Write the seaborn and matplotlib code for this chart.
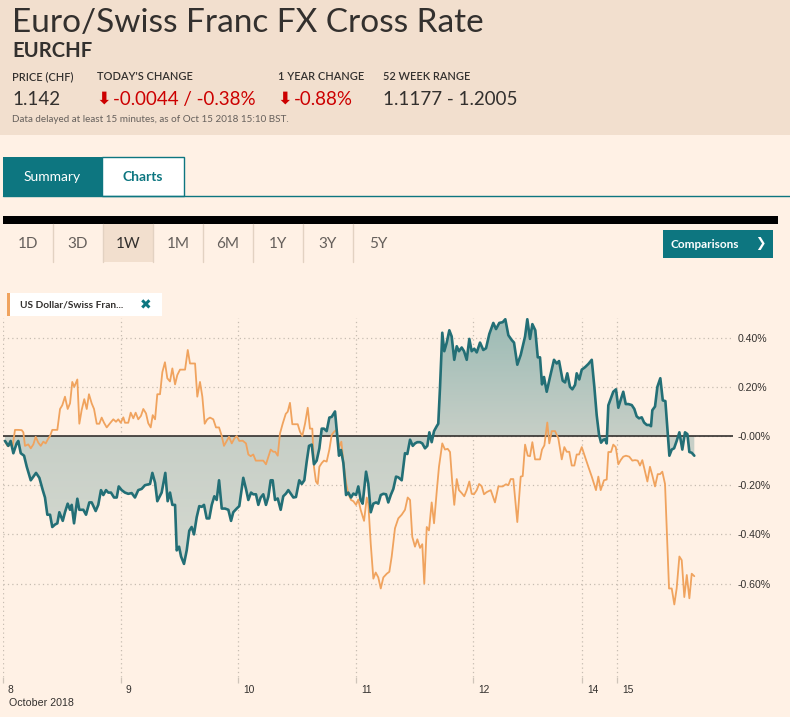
import numpy as np
import pandas as pd
import matplotlib
matplotlib.use("Agg")
import matplotlib.pyplot as plt
import seaborn as sns
from matplotlib.patches import Rectangle
from matplotlib.lines import Line2D
from matplotlib.transforms import ScaledTranslation

# ---------------- data (time in trading-days since 8 Oct, change in %) ----------------
eurchf_points = [
    (0.017,-0.02),(0.045,-0.04),(0.065,-0.02),(0.088,-0.07),(0.116,-0.03),(0.130,-0.02),(0.151,-0.07),
    (0.179,-0.08),(0.202,-0.125),(0.236,-0.18),(0.258,-0.165),(0.281,-0.15),(0.309,-0.17),(0.338,-0.22),
    (0.357,-0.25),(0.377,-0.32),(0.400,-0.32),(0.419,-0.37),(0.442,-0.36),(0.462,-0.355),(0.479,-0.31),
    (0.508,-0.345),(0.527,-0.31),(0.550,-0.275),(0.570,-0.30),(0.584,-0.28),(0.604,-0.355),(0.632,-0.255),
    (0.649,-0.30),(0.683,-0.30),(0.706,-0.32),(0.734,-0.27),(0.754,-0.27),(0.788,-0.305),(0.810,-0.28),
    (0.833,-0.22),(0.853,-0.24),(0.876,-0.22),(0.895,-0.23),(0.918,-0.23),(0.944,-0.25),(0.967,-0.25),
    (0.984,-0.205),(1.009,-0.22),(1.037,-0.23),(1.065,-0.235),(1.094,-0.232),(1.122,-0.25),(1.150,-0.22),
    (1.179,-0.215),(1.207,-0.20),(1.250,-0.195),(1.270,-0.15),(1.293,-0.19),(1.312,-0.265),(1.349,-0.23),
    (1.380,-0.15),(1.400,-0.265),(1.420,-0.23),(1.440,-0.28),(1.463,-0.28),(1.477,-0.465),(1.497,-0.45),
    (1.514,-0.49),(1.539,-0.52),(1.562,-0.465),(1.584,-0.385),(1.604,-0.37),(1.624,-0.40),(1.647,-0.33),
    (1.669,-0.285),(1.690,-0.288),(1.709,-0.28),(1.732,-0.335),(1.754,-0.335),(1.775,-0.28),(1.797,-0.245),
    (1.817,-0.26),(1.837,-0.18),(1.860,-0.295),(1.888,-0.295),(1.916,-0.30),(1.939,-0.345),(1.958,-0.31),
    (1.987,-0.295),(2.009,-0.285),(2.030,-0.215),(2.043,-0.17),(2.066,-0.215),(2.086,-0.26),(2.109,-0.23),
    (2.128,-0.237),(2.151,-0.237),(2.171,-0.28),(2.191,-0.25),(2.213,-0.237),(2.236,-0.28),(2.256,-0.247),
    (2.276,-0.18),(2.293,-0.18),(2.313,-0.26),(2.336,-0.254),(2.361,-0.30),(2.383,-0.245),(2.406,-0.234),
    (2.426,-0.22),(2.446,-0.234),(2.469,-0.25),(2.491,-0.248),(2.519,-0.18),(2.540,-0.195),(2.562,-0.18),
    (2.582,-0.105),(2.602,-0.04),(2.625,-0.035),(2.644,-0.115),(2.667,-0.10),(2.690,-0.05),(2.710,0.03),
    (2.729,0.03),(2.752,0.02),(2.775,0.075),(2.795,0.078),(2.823,0.10),(2.837,0.025),(2.857,-0.08),
    (2.874,-0.057),(2.894,-0.11),(2.917,-0.24),(2.936,-0.23),(2.959,-0.25),(2.979,-0.234),(3.002,-0.24),
    (3.021,-0.205),(3.041,-0.26),(3.058,-0.275),(3.087,-0.145),(3.106,-0.194),(3.127,-0.31),(3.149,-0.275),
    (3.172,-0.27),(3.191,-0.275),(3.212,-0.24),(3.234,-0.235),(3.257,-0.237),(3.276,-0.27),(3.297,-0.24),
    (3.319,-0.215),(3.342,-0.165),(3.361,-0.168),(3.390,-0.18),(3.418,-0.07),(3.438,-0.073),(3.461,-0.015),
    (3.484,-0.04),(3.503,-0.03),(3.523,-0.025),(3.546,-0.025),(3.565,-0.03),(3.588,-0.05),(3.608,-0.04),
    (3.625,0.015),(3.645,-0.025),(3.665,0.02),(3.688,0.04),(3.701,0.05),(3.716,0.20),(3.735,0.42),
    (3.752,0.345),(3.773,0.38),(3.795,0.43),(3.815,0.405),(3.837,0.31),(3.858,0.365),(3.877,0.345),
    (3.900,0.36),(3.920,0.345),(3.943,0.31),(3.965,0.395),(3.985,0.345),(4.007,0.355),(4.028,0.34),
    (4.056,0.38),(4.084,0.35),(4.107,0.357),(4.135,0.415),(4.169,0.46),(4.192,0.435),(4.220,0.46),
    (4.249,0.463),(4.271,0.475),(4.297,0.41),(4.326,0.39),(4.345,0.38),(4.373,0.29),(4.402,0.33),
    (4.439,0.405),(4.458,0.475),(4.481,0.395),(4.501,0.455),(4.526,0.43),(4.547,0.32),(4.566,0.32),
    (4.583,0.21),(4.600,0.24),(4.623,0.18),(4.651,0.24),(4.685,0.31),(4.708,0.295),(4.728,0.305),
    (4.759,0.225),(4.779,0.218),(4.798,0.255),(4.821,0.20),(4.841,0.19),(4.864,0.208),(4.878,0.255),
    (4.900,0.23),(4.921,0.27),(4.949,0.28),(4.977,0.293),(5.006,0.31),(5.028,0.20),(5.048,0.085),
    (5.068,0.005),(5.085,-0.027),(5.105,-0.015),(5.119,-0.013),(5.133,-0.03),(5.147,0.125),(5.170,0.155),
    (5.189,0.18),(5.212,0.19),(5.232,0.115),(5.252,0.147),(5.274,0.18),(5.295,0.13),(5.317,0.13),
    (5.346,0.126),(5.368,0.11),(5.388,0.08),(5.408,0.072),(5.431,0.076),(5.451,0.055),(5.474,0.045),
    (5.496,0.045),(5.510,0.04),(5.521,0.105),(5.544,0.12),(5.564,0.20),(5.589,0.235),(5.610,0.145),
    (5.632,0.142),(5.666,-0.08),(5.686,-0.055),(5.706,-0.05),(5.728,-0.02),(5.751,0.015),(5.776,-0.055),
    (5.799,0.015),(5.819,0.008),(5.836,-0.065),(5.856,-0.068),(5.878,-0.08),
]

usdchf_points = [
    (0.017,-0.02),(0.037,-0.04),(0.060,-0.037),(0.082,-0.04),(0.102,0.025),(0.130,0.025),(0.159,0.024),
    (0.173,0.015),(0.187,-0.04),(0.215,-0.034),(0.236,-0.05),(0.258,-0.034),(0.278,-0.003),(0.300,-0.027),
    (0.321,-0.04),(0.343,-0.023),(0.363,-0.03),(0.385,-0.01),(0.400,0.0),(0.419,0.025),(0.442,0.025),
    (0.462,0.025),(0.485,0.11),(0.504,0.125),(0.527,0.16),(0.550,0.11),(0.570,0.133),(0.589,0.22),
    (0.606,0.20),(0.632,0.23),(0.649,0.05),(0.669,0.106),(0.691,0.15),(0.712,0.11),(0.731,0.17),
    (0.754,0.133),(0.774,0.11),(0.797,0.05),(0.819,0.05),(0.839,0.075),(0.859,0.054),(0.882,0.035),
    (0.910,0.052),(0.938,0.068),(0.961,0.058),(0.980,0.068),(1.001,0.054),(1.023,0.076),(1.037,0.054),
    (1.065,0.054),(1.086,0.095),(1.108,0.072),(1.128,0.095),(1.150,0.068),(1.173,0.082),(1.193,0.11),
    (1.216,0.092),(1.235,0.052),(1.256,0.035),(1.273,0.085),(1.293,0.068),(1.312,0.17),(1.335,0.17),
    (1.355,0.26),(1.377,0.30),(1.397,0.235),(1.420,0.222),(1.440,0.275),(1.463,0.21),(1.482,0.248),
    (1.505,0.27),(1.528,0.27),(1.548,0.27),(1.571,0.35),(1.590,0.295),(1.613,0.295),(1.633,0.295),
    (1.652,0.16),(1.675,0.22),(1.695,0.16),(1.715,0.05),(1.737,0.068),(1.760,0.075),(1.788,0.068),
    (1.811,0.035),(1.837,0.035),(1.860,0.0),(1.879,-0.04),(1.902,-0.02),(1.922,-0.003),(1.945,-0.03),
    (1.967,-0.01),(1.987,0.0),(2.009,-0.02),(2.038,-0.019),(2.066,-0.03),(2.086,-0.075),(2.106,-0.082),
    (2.128,-0.075),(2.149,-0.10),(2.171,-0.10),(2.194,-0.10),(2.213,-0.10),(2.236,-0.115),(2.256,-0.085),
    (2.276,-0.055),(2.298,-0.064),(2.315,-0.064),(2.336,-0.08),(2.355,0.01),(2.378,0.05),(2.404,0.09),
    (2.421,0.099),(2.440,0.135),(2.460,0.048),(2.483,0.048),(2.506,0.048),(2.525,0.018),(2.545,0.0),
    (2.568,0.05),(2.591,0.115),(2.610,0.03),(2.630,0.03),(2.644,-0.125),(2.661,-0.185),(2.676,-0.195),
    (2.690,-0.125),(2.710,-0.11),(2.729,-0.10),(2.752,-0.104),(2.775,-0.055),(2.795,0.005),(2.817,0.018),
    (2.837,0.025),(2.857,-0.045),(2.877,-0.023),(2.894,-0.105),(2.917,-0.19),(2.936,-0.235),(2.959,-0.26),
    (2.979,-0.265),(3.002,-0.28),(3.021,-0.258),(3.041,-0.30),(3.070,-0.345),(3.093,-0.25),(3.106,-0.275),
    (3.127,-0.44),(3.149,-0.58),(3.169,-0.555),(3.191,-0.575),(3.212,-0.62),(3.234,-0.575),(3.263,-0.56),
    (3.285,-0.552),(3.305,-0.49),(3.333,-0.375),(3.361,-0.335),(3.390,-0.32),(3.418,-0.30),(3.441,-0.25),
    (3.461,-0.26),(3.480,-0.41),(3.503,-0.45),(3.523,-0.42),(3.546,-0.455),(3.565,-0.44),(3.582,-0.60),
    (3.603,-0.37),(3.622,-0.384),(3.645,-0.27),(3.665,-0.355),(3.688,-0.225),(3.707,-0.125),(3.735,-0.03),
    (3.758,-0.055),(3.781,-0.052),(3.801,-0.065),(3.820,-0.19),(3.837,-0.28),(3.858,-0.175),(3.877,-0.22),
    (3.900,-0.232),(3.922,-0.245),(3.943,-0.22),(3.965,-0.185),(3.985,-0.235),(4.005,-0.237),(4.028,-0.22),
    (4.048,-0.195),(4.070,-0.204),(4.090,-0.237),(4.113,-0.228),(4.147,-0.22),(4.183,-0.27),(4.212,-0.205),
    (4.249,-0.205),(4.277,-0.196),(4.297,-0.20),(4.317,-0.175),(4.339,-0.175),(4.373,-0.35),(4.402,-0.165),
    (4.419,-0.163),(4.439,-0.035),(4.462,-0.08),(4.481,-0.082),(4.501,-0.025),(4.524,-0.095),(4.543,-0.095),
    (4.566,-0.095),(4.583,-0.055),(4.603,-0.038),(4.628,0.055),(4.645,-0.03),(4.666,0.02),(4.694,0.02),
    (4.722,-0.01),(4.751,-0.095),(4.773,-0.045),(4.793,-0.064),(4.815,-0.064),(4.836,-0.12),(4.858,-0.12),
    (4.878,-0.075),(4.898,-0.075),(4.921,-0.045),(4.949,-0.085),(4.977,-0.125),(5.006,-0.165),(5.042,-0.22),
    (5.062,-0.165),(5.082,-0.22),(5.110,-0.18),(5.133,-0.177),(5.147,-0.065),(5.170,-0.065),(5.189,-0.035),
    (5.210,-0.045),(5.232,-0.115),(5.252,-0.098),(5.274,-0.084),(5.297,-0.08),(5.325,-0.084),(5.351,-0.10),
    (5.374,-0.098),(5.397,-0.10),(5.416,-0.12),(5.436,-0.098),(5.459,-0.145),(5.479,-0.185),(5.501,-0.125),
    (5.521,-0.16),(5.544,-0.205),(5.567,-0.155),(5.587,-0.155),(5.606,-0.145),(5.629,-0.195),(5.643,-0.37),
    (5.663,-0.62),(5.686,-0.62),(5.708,-0.685),(5.728,-0.62),(5.751,-0.49),(5.771,-0.505),(5.793,-0.655),
    (5.814,-0.565),(5.836,-0.66),(5.856,-0.56),(5.878,-0.57),
]

day_ticks = [0.0, 1.0, 2.0, 3.0, 4.0, 4.923, 5.221]
day_labels = ["8", "9", "10", "11", "12", "14", "15"]
y_ticks = [0.4, 0.2, 0.0, -0.2, -0.4, -0.6]
y_labels = ["0.40%", "0.20%", "-0.00%", "-0.20%", "-0.40%", "-0.60%"]
range_labels = ["1D", "3D", "1W", "1M", "6M", "1Y", "3Y", "5Y"]
stat_heads = ["PRICE (CHF)", "TODAY'S CHANGE", "1 YEAR CHANGE", "52 WEEK RANGE"]

# ---------------- style ----------------
sns.set_theme(style="white")
plt.rcParams['font.family'] = ['Lato', 'DejaVu Sans']

INK = '#33302E'
TEAL_UI = '#0D7680'
TEAL_LINE = '#236F76'
ORANGE = '#F0A35E'
RED = '#CC0000'
PAGE = '#FFF1E5'
HEAD = '#F2DFCE'

W, H = 790, 717
fig = plt.figure(figsize=(W / 100, H / 100), dpi=100, facecolor=PAGE)

bg = fig.add_axes([0, 0, 1, 1])
bg.set_xlim(0, W)
bg.set_ylim(H, 0)
bg.axis('off')

# header
bg.add_patch(Rectangle((0, 0), W, 135, facecolor=HEAD, edgecolor='none'))
bg.text(12, 32, "Euro/Swiss Franc FX Cross Rate", fontsize=24, color=INK, va='baseline')
bg.text(12, 57, "EURCHF", fontsize=14.6, fontweight='bold', color=INK, va='baseline')
for x, s in zip([12, 97, 278, 383], stat_heads):
    bg.text(x, 80, s, fontsize=7.9, fontweight='semibold', color=INK, va='baseline')
bg.text(12, 105, "1.142", fontsize=13.5, color=INK, va='baseline')
bg.text(96, 104, "\u2b07", fontsize=12.5, color=RED, va='baseline', family='DejaVu Sans', fontweight='bold')
bg.text(113, 105, "-0.0044 / -0.38%", fontsize=13.5, color=RED, va='baseline')
bg.text(277, 104, "\u2b07", fontsize=12.5, color=RED, va='baseline', family='DejaVu Sans', fontweight='bold')
bg.text(294, 105, "-0.88%", fontsize=13.5, color=RED, va='baseline')
bg.text(383, 105, "1.1177 - 1.2005", fontsize=13.5, color=INK, va='baseline')
bg.text(12, 122, "Data delayed at least 15 minutes, as of Oct 15 2018 15:10 BST.",
        fontsize=7.1, color='#66605C', va='baseline')

# tabs
bg.add_patch(Rectangle((3, 157), 99, 39, facecolor=TEAL_UI, edgecolor='none'))
bg.add_patch(Rectangle((102, 157), 82, 39, facecolor='white', edgecolor=TEAL_UI, lw=1))
bg.add_line(Line2D([3, W], [196, 196], color=TEAL_UI, lw=1))
bg.text(52, 177, "Summary", fontsize=10, color='white', ha='center', va='center')
bg.text(143, 177, "Charts", fontsize=10, color=TEAL_UI, fontweight='bold', ha='center', va='center')

# black bar + range selector
bg.add_patch(Rectangle((3, 216), 775, 8, facecolor='black', edgecolor='none'))
bg.add_patch(Rectangle((103, 224), 50, 38, facecolor=HEAD, edgecolor='none'))
for i, lab in enumerate(range_labels):
    cx = 28 + 50 * i
    bg.text(cx, 244, lab, fontsize=11, color=INK if lab == "1W" else '#66605C',
            ha='center', va='center')
    if i > 0:
        bg.add_line(Line2D([cx - 25, cx - 25], [224, 262], color='#E3D2C2', lw=1))
bg.add_patch(Rectangle((663, 230), 110, 28, facecolor=TEAL_UI, edgecolor='none'))
bg.text(705, 244, "Comparisons", fontsize=8.5, color='white', fontweight='bold', ha='center', va='center')
bg.text(760, 244, "\u276f", fontsize=9, color='white', ha='center', va='center', family='DejaVu Sans')

# legend chip
bg.add_patch(Rectangle((7, 293), 155, 23, facecolor='white', edgecolor='none'))
bg.add_patch(Rectangle((7, 293), 3, 23, facecolor=ORANGE, edgecolor='none'))
bg.text(20, 305, "US Dollar/Swiss Fran...", fontsize=7.3, fontweight='bold', color=INK, va='center')
bg.text(146, 305, "\u2716", fontsize=10, color=TEAL_UI, ha='center', va='center', family='DejaVu Sans')

bg.text(9, 703, "October 2018", fontsize=7.7, color=INK, va='center', family='Liberation Sans')

# ---------------- chart ----------------
ax = fig.add_axes([3 / W, 1 - 677 / H, 730 / W, 359 / H])
ax.set_facecolor('none')

eur = pd.DataFrame(eurchf_points, columns=['t', 'pct'])
usd = pd.DataFrame(usdchf_points, columns=['t', 'pct'])

XMAX, YMIN, YMAX = 6.207, -0.98, 0.48

poly = ax.fill_between(eur['t'], eur['pct'], 0, facecolor='none', edgecolor='none')
yy = np.linspace(YMIN, YMAX, 300)
anchors_v = [YMIN, 0.0, YMAX]
rgb = np.stack([
    np.interp(yy, anchors_v, [226, 199, 156]),
    np.interp(yy, anchors_v, [226, 207, 187]),
    np.interp(yy, anchors_v, [216, 199, 181]),
], axis=-1) / 255.0
im = ax.imshow(rgb[:, None, :], extent=[0, XMAX, YMIN, YMAX], origin='lower',
               aspect='auto', zorder=1, interpolation='bilinear')
im.set_clip_path(poly.get_paths()[0], transform=ax.transData)

ax.axhline(0, color=INK, lw=1.2, zorder=2)
sns.lineplot(data=usd, x='t', y='pct', ax=ax, color=ORANGE, lw=1.3, estimator=None, zorder=3)
sns.lineplot(data=eur, x='t', y='pct', ax=ax, color=TEAL_LINE, lw=1.9, estimator=None, zorder=4)

ax.set_xlim(0, XMAX)
ax.set_ylim(YMIN, YMAX)
ax.set_xlabel('')
ax.set_ylabel('')
for s in ax.spines.values():
    s.set_visible(False)

ax.grid(True, linestyle=(0, (1, 2.5)), color='#C7BCB1', lw=0.9, zorder=0)
ax.set_axisbelow(True)

ax.yaxis.tick_right()
ax.set_yticks(y_ticks)
ax.set_yticklabels(y_labels, fontsize=7.6, color=INK, family='Liberation Sans')
ax.tick_params(axis='y', length=0, pad=3.5, right=False, left=False)

ax.set_xticks(day_ticks)
ax.set_xticklabels(day_labels, fontsize=7.4, color=INK, family='Liberation Sans', ha='left')
ax.tick_params(axis='x', bottom=True, direction='out', length=4, width=0.9,
               color='#CFC4B9', pad=1.5)
off = ScaledTranslation(5 / 100, 0, fig.dpi_scale_trans)
for lab in ax.get_xticklabels():
    lab.set_transform(lab.get_transform() + off)

fig.savefig('out.png', dpi=100, facecolor=PAGE)
